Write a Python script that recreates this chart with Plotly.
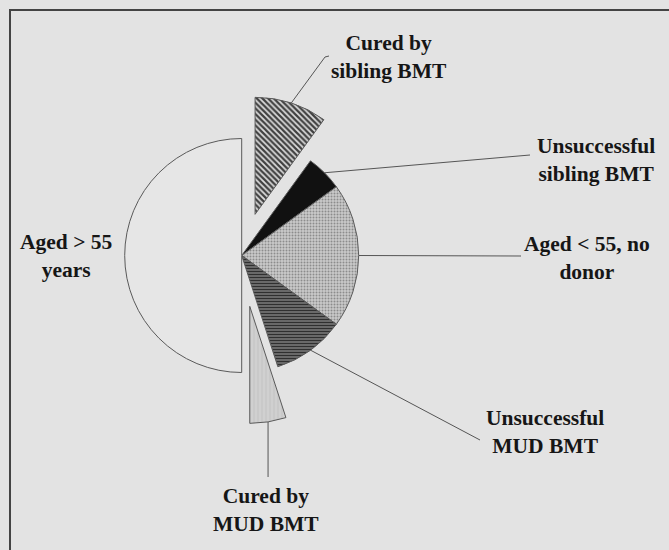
import math
import plotly.graph_objects as go

# ---- data ----
labels = ["Cured by<br>sibling BMT", "Unsuccessful<br>sibling BMT", "Aged < 55, no<br>donor",
          "Unsuccessful<br>MUD BMT", "Cured by<br>MUD BMT", "Aged > 55<br>years"]
values = [2, 1, 4, 2, 1, 10]
pulls = [0.37, 0, 0, 0, 0.44, 0]

# ---- styles ----
shapes_pat = ["\\", "", ".", "-", "|", ""]
fg = ["#404040", "#111111", "#8c8c8c", "#303030", "#c2c2c2", "#e6e6e6"]
bg = ["#dcdcdc", "#111111", "#cacaca", "#7c7c7c", "#d0d0d0", "#e6e6e6"]
psize = [4, 4, 3, 3, 4, 4]
psol = [0.55, 0.5, 0.35, 0.5, 0.25, 0.5]

W, H = 669, 550
CX, CY, R = 241.7, 255.5, 117.0
maxpull = max(pulls)
half = R * (1 + maxpull)
dom_x = [(CX - half) / W, (CX + half) / W]
dom_y = [1 - (CY + half) / H, 1 - (CY - half) / H]

fig = go.Figure()
fig.add_trace(go.Pie(
    labels=labels, values=values, pull=pulls, sort=False, direction="clockwise",
    rotation=0, textinfo="none", hoverinfo="skip", showlegend=False,
    domain=dict(x=dom_x, y=dom_y),
    marker=dict(colors=bg, line=dict(color="#5a5a5a", width=1),
                pattern=dict(shape=shapes_pat, fgcolor=fg, bgcolor=bg,
                             size=psize, solidity=psol, fillmode="replace")),
))

# slice anchor points computed from the values
total = sum(values)
anchors = []
cum = 0
for v, p in zip(values, pulls):
    mid = (cum + v / 2) / total * 2 * math.pi
    cum += v
    s, c = math.sin(mid), -math.cos(mid)
    ox, oy = CX + p * R * s, CY + p * R * c
    anchors.append((ox + R * s, oy + R * c))

# leader line end points and label positions (layout)
leader_ends = [[(325, 57), (329, 56)], [(530, 155)], [(521, 256)], [(480, 440)], None, None]
label_pos = [(389, 57), (596, 160), (587, 258), (545, 432), (265.5, 510), (65.5, 256)]

for i, a in enumerate(anchors):
    ends = leader_ends[i]
    if i == 4:
        ends = [(a[0], 477)]
    if ends:
        xs = [a[0]] + [e[0] for e in ends]
        ys = [a[1]] + [e[1] for e in ends]
        fig.add_trace(go.Scatter(x=xs, y=ys, mode="lines", line=dict(color="#555555", width=1),
                                 hoverinfo="skip", showlegend=False))
    fig.add_annotation(x=label_pos[i][0], y=label_pos[i][1], xref="x", yref="y",
                       text="<b>" + labels[i] + "</b>", showarrow=False,
                       font=dict(family="Liberation Serif", size=21.5, color="#161616"),
                       xanchor="center", yanchor="middle", align="center")

fig.add_shape(type="rect", x0=10, y0=10, x1=700, y1=600, xref="x", yref="y",
              line=dict(color="#444444", width=2), fillcolor="rgba(0,0,0,0)", layer="above")

fig.update_layout(
    width=W, height=H, margin=dict(l=0, r=0, t=0, b=0),
    paper_bgcolor="#e3e3e3", plot_bgcolor="#e3e3e3",
    xaxis=dict(range=[0, W], visible=False, fixedrange=True),
    yaxis=dict(range=[H, 0], visible=False, fixedrange=True),
)
fig.write_html("out.html", config={"displayModeBar": False},
               post_script="document.body.style.margin='0';document.body.style.background='#e3e3e3';")
